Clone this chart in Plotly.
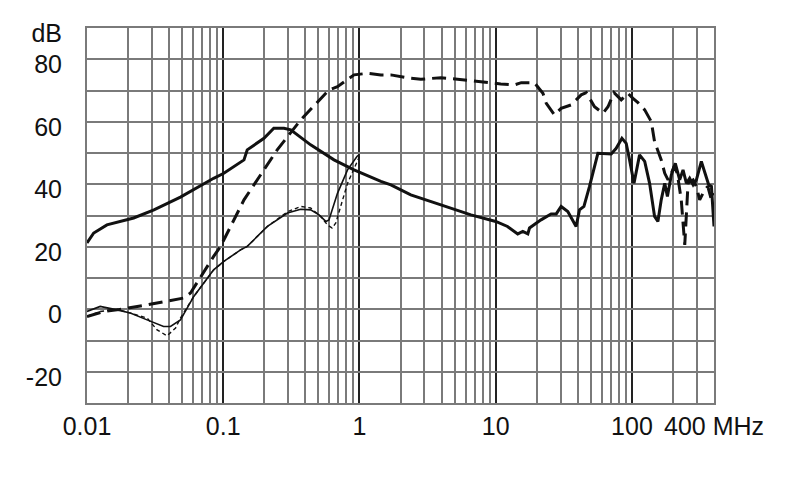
import plotly.graph_objects as go

# ---- data (frequency in MHz, level in dB) ----
freq_a = [0.01, 0.0112, 0.014, 0.0186, 0.022, 0.031, 0.0485, 0.085, 0.101, 0.142, 0.15, 0.199,
          0.235, 0.279, 0.313, 0.438, 0.65, 0.912, 1.435, 1.70, 2.38, 3.96, 6.58, 10, 12.2, 14.5,
          15.8, 17.2, 17.7, 21.5, 25.5, 27.8, 30.2, 33.8, 38.9, 41.2, 44.4, 48.8, 56.2, 70.4, 76.6,
          84.4, 90.7, 96, 103.5, 113.7, 124, 134.7, 146.5, 155, 164, 174, 182, 194.5, 208, 224,
          237, 251, 265, 281, 297, 323, 347, 366, 383, 400]
level_a = [21.2, 24.4, 27, 28.3, 29.2, 31.8, 35.9, 41.9, 43.5, 47.8, 51, 54.7,
           57.9, 57.9, 57.4, 52.6, 47.8, 44.6, 40.9, 39.8, 36.6, 33.4, 30.2, 28.1, 26.5, 24.1,
           24.9, 24.1, 26, 28.6, 30.5, 30.5, 32.9, 31.3, 26.5, 31.8, 32.9, 39.3, 49.9, 49.7, 51.5,
           54.7, 53.1, 47.8, 40.3, 49.4, 47.3, 40.3, 29.7, 28.1, 35, 40.3, 36.1, 43, 46.7, 41.4,
           44.6, 40.3, 41.9, 39.8, 41.4, 47.3, 42.5, 39.8, 39.3, 26.5]

freq_b = [0.01, 0.0133, 0.0166, 0.0276, 0.0513, 0.0575, 0.085, 0.0955, 0.142, 0.249, 0.37, 0.597,
          0.689, 0.77, 0.912, 1.145, 1.435, 1.70, 2.38, 2.82, 3.96, 5.24, 6.58, 9.2, 10.9, 13.7,
          15.4, 19.2, 22.2, 23.5, 27, 30.2, 35.8, 42.4, 46.2, 53.1, 61.2, 66.7, 73.8, 83.4, 93.4,
          101.7, 110.7, 124, 138.7, 146.5, 164, 174, 184, 194.5, 204, 215, 230, 244, 258, 281,
          297, 314, 342, 360, 383, 400]
level_b = [-2.3, -0.7, -0.2, 1.4, 3.6, 5.2, 16.9, 20.1, 35, 51, 60.6, 70.2,
           71.2, 72.8, 75, 75.5, 75, 75, 73.9, 73.6, 74.1, 73.6, 73.1, 72.3, 72.1, 71.8,
           72.5, 72.5, 69.1, 65.9, 62.2, 64.3, 65.4, 68.6, 69.3, 64.8, 62.7, 64.8, 69.3, 67, 69.1,
           67.5, 66.1, 63.8, 60, 53.6, 47.8, 43.5, 41.4, 43.5, 45.7, 43.5, 35, 20.6, 40.3, 41.4,
           39.3, 35, 38.2, 39.3, 35, 37.1]

freq_c = [0.01, 0.0125, 0.0166, 0.0208, 0.0276, 0.0365, 0.041, 0.0485, 0.0608, 0.085, 0.101,
          0.134, 0.15, 0.211, 0.296, 0.37, 0.438, 0.505, 0.566, 0.597, 0.689, 0.817, 0.958, 0.99]
level_c = [-0.7, 0.9, -0.2, -1.2, -3.4, -5.5, -5.5, -3.4, 4.1, 12.6, 15.3,
           19, 20.1, 26.5, 30.8, 32, 31.8, 30.2, 28.1, 28.6, 37.1, 44.6, 48.9, 49.4]

freq_d = [0.01, 0.0125, 0.0166, 0.0276, 0.0327, 0.0387, 0.0447, 0.0485, 0.0608, 0.085, 0.101,
          0.134, 0.15, 0.211, 0.296, 0.37, 0.438, 0.519, 0.582, 0.63, 0.67, 0.817, 1.0]
level_d = [-2.3, -0.7, 0, -2.8, -6.6, -8.5, -6, -2.8, 4.1, 12.6, 15.3,
           19, 20.1, 26.5, 31.2, 32.9, 32.4, 29.7, 27, 26, 27.6, 40.3, 48.9]

x_ticks = [0.01, 0.1, 1, 10, 100, 400]
x_labels = ["0.01", "0.1", "1", "10", "100", "400 MHz"]
x_minor = [m * d for d in [0.01, 0.1, 1, 10] for m in range(2, 10)] + [200, 300]
y_ticks = list(range(-30, 91, 10))
y_labels = ["", "-20", "", "0", "", "20", "", "40", "", "60", "", "80", "dB"]

fig = go.Figure()
fig.add_trace(go.Scatter(x=freq_c, y=level_c, mode="lines",
                         line=dict(color="#111", width=1.6), showlegend=False))
fig.add_trace(go.Scatter(x=freq_d, y=level_d, mode="lines",
                         line=dict(color="#111", width=1.4, dash="4px,3px"), showlegend=False))
fig.add_trace(go.Scatter(x=freq_a, y=level_a, mode="lines",
                         line=dict(color="#111", width=3), showlegend=False))
fig.add_trace(go.Scatter(x=freq_b, y=level_b, mode="lines",
                         line=dict(color="#111", width=3, dash="14px,7px"), showlegend=False))

font = dict(family="Liberation Sans, Arial, sans-serif", size=25, color="#111")
fig.update_layout(
    width=782, height=491,
    margin=dict(l=79, r=76, t=20, b=96),
    paper_bgcolor="white", plot_bgcolor="white",
    font=font,
    xaxis=dict(type="log", range=[-2, 2.60206], tickvals=x_ticks, ticktext=x_labels,
               showgrid=True, gridcolor="#222", gridwidth=1.8,
               minor=dict(tickvals=x_minor, showgrid=True, gridcolor="#7a7a7a", gridwidth=1.5,
                          ticks=""),
               ticks="", showline=True, linecolor="#7a7a7a", linewidth=2, mirror=True,
               zeroline=False, ticklabelstandoff=0),
    yaxis=dict(range=[-30, 90], tickvals=y_ticks, ticktext=y_labels,
               showgrid=True, gridcolor="#7a7a7a", gridwidth=1.5,
               ticks="", showline=True, linecolor="#7a7a7a", linewidth=2, mirror=True,
               zeroline=False, ticklabelstandoff=18, ticklabelshift=5),
)

fig.write_html("out.html")
